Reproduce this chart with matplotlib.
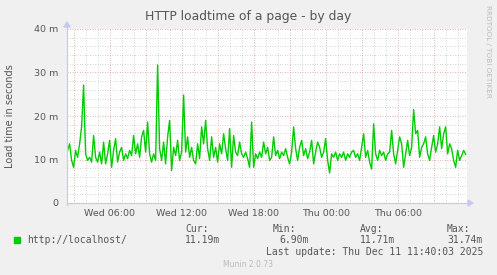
import matplotlib
matplotlib.use("Agg")
import matplotlib.pyplot as plt
import numpy as np

# ---- data (milliseconds), 10-minute samples from Wed 02:30 to Thu 11:40 ----
start_hour = 2.5          # hours since Wed 00:00
step_hours = 1.0 / 6.0
load_ms = [
    12.1, 13.6, 9.8, 8.2, 12.1, 10.5, 13.6, 17.5, 27.1, 11.3,
    9.8, 10.5, 9.4, 15.5, 10.5, 9.4, 11.7, 9.0, 14.0, 9.0,
    11.3, 14.4, 8.2, 12.1, 14.8, 9.4, 11.7, 12.8, 9.8, 11.3,
    10.2, 12.1, 10.9, 15.5, 11.3, 13.6, 10.5, 15.2, 16.7, 11.7,
    18.6, 11.3, 9.4, 11.3, 9.8, 31.74, 12.5, 9.8, 14.0, 9.0,
    15.2, 19.0, 7.5, 12.8, 10.9, 14.4, 9.8, 11.7, 24.8, 11.7,
    15.2, 10.5, 12.8, 9.8, 9.0, 13.6, 10.2, 17.5, 13.6, 19.0,
    12.5, 9.8, 15.2, 10.5, 12.8, 9.4, 13.6, 11.3, 15.9, 12.5,
    9.8, 17.1, 8.2, 15.5, 11.7, 10.9, 14.0, 11.3, 10.5, 11.7,
    10.2, 8.2, 18.6, 8.2, 11.3, 10.2, 11.7, 10.5, 14.0, 11.3,
    12.8, 9.8, 10.5, 15.2, 10.9, 12.1, 10.2, 11.7, 10.9, 12.5,
    10.5, 9.0, 11.7, 17.5, 12.5, 9.8, 12.8, 14.4, 10.9, 12.5,
    10.2, 11.7, 14.4, 9.0, 11.7, 14.0, 12.8, 10.5, 11.7, 14.8,
    9.8, 6.90, 11.3, 10.5, 11.7, 9.8, 11.3, 10.5, 11.7, 9.8,
    11.3, 10.5, 11.7, 12.1, 10.5, 11.3, 9.8, 12.8, 15.9, 10.5,
    12.1, 9.4, 7.8, 18.2, 11.3, 9.8, 12.1, 10.9, 11.7, 9.8,
    11.3, 11.7, 16.7, 11.3, 9.0, 12.1, 15.2, 13.6, 8.2, 11.3,
    14.4, 10.9, 12.8, 21.5, 15.9, 16.7, 10.5, 12.8, 13.6, 15.2,
    11.3, 9.8, 12.8, 15.5, 11.7, 13.6, 17.5, 12.5, 15.9, 17.5,
    11.3, 13.6, 12.5, 9.8, 8.2, 12.1, 9.8, 10.9, 12.1, 11.19,
]
hours = start_hour + step_hours * np.arange(len(load_ms))

x_tick_hours = [6, 12, 18, 24, 30]
x_tick_labels = ["Wed 06:00", "Wed 12:00", "Wed 18:00", "Thu 00:00", "Thu 06:00"]
y_ticks = [0, 10, 20, 30, 40]
y_tick_labels = ["0", "10 m", "20 m", "30 m", "40 m"]

series_name = "http://localhost/"
stat_names = ["Cur:", "Min:", "Avg:", "Max:"]
stat_values = ["11.19m", "6.90m", "11.71m", "31.74m"]

# ---- figure ----
W, H = 497, 275
fig = plt.figure(figsize=(W / 100, H / 100), dpi=100)
fig.patch.set_facecolor("#F0F0F0")

L, R, T, B = 67, 467, 29, 203
ax = fig.add_axes([L / W, 1 - B / H, (R - L) / W, (B - T) / H])
ax.set_facecolor("white")
ax.set_xlim(2.45, 35.78)
ax.set_ylim(0, 40)

# grid
minor_col = "#C8C8C8"
major_col = "#E09A9A"
for h in np.arange(3, 36, 1):
    if h % 3 != 0:
        ax.axvline(h, color=minor_col, lw=0.6, ls=(0, (1, 2)), zorder=1)
for h in np.arange(3, 36, 3):
    ax.axvline(h, color=major_col, lw=0.6, ls=(0, (1, 2)), zorder=1)
for v in np.arange(2, 40, 2):
    if v % 10 != 0:
        ax.axhline(v, color=minor_col, lw=0.6, ls=(0, (1, 2)), zorder=1)
for v in [10, 20, 30, 40]:
    ax.axhline(v, color=major_col, lw=0.6, ls=(0, (1, 2)), zorder=1)

ax.plot(hours, load_ms, color="#00CC00", lw=1.0, zorder=3)

for s in ax.spines.values():
    s.set_visible(False)
ax.set_xticks(x_tick_hours)
ax.set_xticklabels(x_tick_labels)
ax.set_yticks(y_ticks)
ax.set_yticklabels(y_tick_labels)
ax.tick_params(axis="both", length=0, labelsize=6.8, colors="#555555", pad=4)
ax.tick_params(axis="y", pad=6)

# axes with arrows
axis_col = "#C8C8F5"
fig.add_artist(plt.Line2D([L / W, (R + 3) / W], [1 - B / H, 1 - B / H], color=axis_col, lw=0.9))
fig.add_artist(plt.Line2D([L / W, L / W], [1 - (B + 2) / H, 1 - (T - 3) / H], color=axis_col, lw=0.9))
fig.add_artist(plt.Polygon([[(R + 1) / W, 1 - (B - 3) / H], [(R + 1) / W, 1 - (B + 3) / H],
                            [(R + 6) / W, 1 - B / H]], closed=True, color=axis_col, transform=fig.transFigure))
fig.add_artist(plt.Polygon([[(L - 3) / W, 1 - (T - 2) / H], [(L + 3) / W, 1 - (T - 2) / H],
                            [L / W, 1 - (T - 7) / H]], closed=True, color=axis_col, transform=fig.transFigure))

# titles and labels
fig.text(248 / W, 1 - 20 / H, "HTTP loadtime of a page - by day", ha="center", va="baseline",
         fontsize=8.9, color="#555555")
fig.text(10 / W, 1 - 116 / H, "Load time in seconds", rotation=90, ha="center", va="center",
         fontsize=7, color="#555555")
fig.text(488 / W, 1 - 5 / H, "RRDTOOL / TOBI OETIKER", rotation=270, ha="center", va="top",
         fontsize=5.2, color="#BBBBBB")

# legend
mono = "DejaVu Sans Mono"
fig.add_artist(plt.Rectangle((14 / W, 1 - 243 / H), 6 / W, 6 / H, color="#00CC00",
                             transform=fig.transFigure))
fig.text(27 / W, 1 - 243 / H, series_name, fontsize=7, family=mono, color="#555555", va="baseline")
stat_x = [185, 279, 360, 447]
name_x = [185, 273, 360, 447]
for nx, vx, n, v in zip(name_x, stat_x, stat_names, stat_values):
    fig.text(nx / W, 1 - 232 / H, n, fontsize=7, family=mono, color="#555555", va="baseline")
    fig.text(vx / W, 1 - 243 / H, v, fontsize=7, family=mono, color="#555555", va="baseline")
fig.text(483 / W, 1 - 255 / H, "Last update: Thu Dec 11 11:40:03 2025", ha="right",
         fontsize=7, family=mono, color="#555555", va="baseline")
fig.text(248 / W, 1 - 267 / H, "Munin 2.0.73", ha="center", fontsize=5.5, color="#BBBBBB", va="baseline")

fig.savefig("out.png", dpi=100, facecolor=fig.get_facecolor())
